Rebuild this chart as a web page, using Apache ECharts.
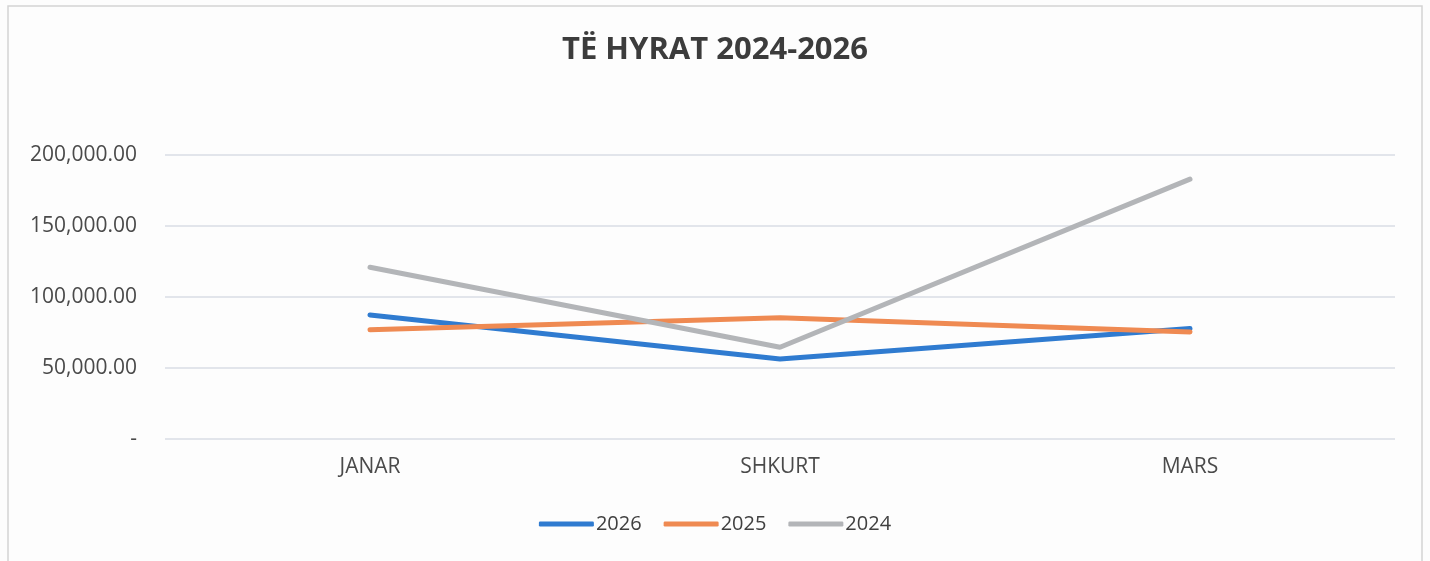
<!DOCTYPE html>
<html><head><meta charset="utf-8">
<script src="https://cdn.jsdelivr.net/npm/echarts@6/dist/echarts.min.js"></script>
<style>html,body{margin:0;padding:0;background:#fdfdfd}#c{width:1430px;height:561px}</style>
</head><body><div id="c"></div>
<script>
const categories = ['JANAR', 'SHKURT', 'MARS'];
const s2026 = [87400, 56300, 77800];
const s2025 = [76900, 85400, 75400];
const s2024 = [121000, 64600, 183000];
const yTicks = [0, 50000, 100000, 150000, 200000];

const chart = echarts.init(document.getElementById('c'));
const fmt = v => v === 0 ? '-' : v.toLocaleString('en-US', {minimumFractionDigits: 2, maximumFractionDigits: 2});
const mk = (name, data, color) => ({
  name, type: 'line', data, symbol: 'none', smooth: false,
  lineStyle: {color, width: 5, cap: 'round'}, itemStyle: {color}
});
chart.setOption({
  backgroundColor: '#fdfdfd',
  animation: false,
  title: {text: 'TË HYRAT 2024-2026', left: 'center', top: 30,
    textStyle: {fontFamily: 'Open Sans', fontWeight: 'bold', fontSize: 31, color: '#3c3c3c'}},
  graphic: [{type: 'rect', shape: {x: 8, y: 6, width: 1414, height: 560},
    style: {fill: 'none', stroke: '#d4d4d4', lineWidth: 1.5}, silent: true}],
  legend: {bottom: 22, left: 'center', itemWidth: 55, itemHeight: 5, itemGap: 22,
    icon: 'roundRect',
    textStyle: {fontFamily: 'Open Sans', fontSize: 20, color: '#404040', padding: [0, 0, 0, -3]},
    data: ['2026', '2025', '2024']},
  grid: {left: 165, right: 35, top: 155, bottom: 122},
  xAxis: {type: 'category', data: categories, boundaryGap: true,
    axisLine: {show: false}, axisTick: {show: false},
    axisLabel: {fontFamily: 'Open Sans', fontSize: 21, color: '#4a4a4a', margin: 18}},
  yAxis: {type: 'value', min: yTicks[0], max: yTicks[yTicks.length - 1], interval: 50000,
    axisLine: {show: false}, axisTick: {show: false},
    splitLine: {lineStyle: {color: '#d9dce4', width: 1.5}},
    axisLabel: {fontFamily: 'Open Sans', fontSize: 21, color: '#4a4a4a', margin: 28, formatter: fmt}},
  series: [mk('2026', s2026, '#2f7bd0'), mk('2025', s2025, '#ef8a52'), mk('2024', s2024, '#b3b5b8')]
});
</script></body></html>
